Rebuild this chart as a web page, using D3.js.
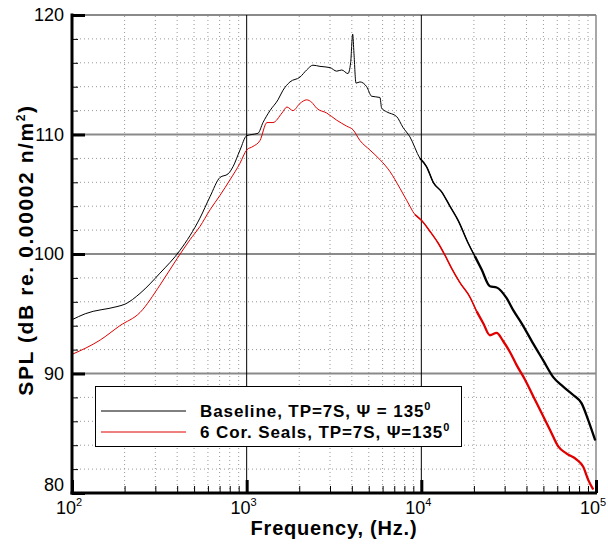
<!DOCTYPE html>
<html><head><meta charset="utf-8">
<script src="https://cdn.jsdelivr.net/npm/d3@7"></script>
<style>body{margin:0;background:#fff}svg{display:block}text{font-family:Arial,"Liberation Sans",sans-serif}</style>
</head><body><div id="chart"></div>
<script>
const baselineFreq = [100,119,181,201,245,319,415,540,617,703,782,835,916,1000,1072,1161,1240,1360,1511,1614,1770,2019,2205,2396,2628,2999,3275,3499,3801,3938,4045,4114,4225,4451,4864,5194,5794,5926,6328,7222,7847,8604,9817,10723,11700,13068,14577,16262,18556,20270,22140,24704,26977,30780,33574,37514,43700,49860,56886,64900,74050,82740,90250,99000];
const baselineSPL = [94.5,95.0,95.6,95.8,96.7,98.4,100.3,103.0,104.8,106.4,106.7,107.3,108.7,109.9,110.0,110.1,111.0,112.0,112.9,113.7,114.4,114.8,115.4,115.8,115.7,115.6,115.3,115.4,115.1,116.0,118.4,116.8,114.3,114.4,114.0,113.2,113.1,112.2,111.9,111.5,110.6,109.8,108.0,107.3,106.0,105.2,104.0,102.8,100.9,99.8,98.7,97.3,97.2,96.3,95.3,94.2,92.5,91.1,89.7,88.9,88.2,87.5,86.1,84.4];
const sealsFreq = [100,145,188,245,319,399,474,540,617,703,802,916,1000,1087,1192,1307,1415,1593,1701,1841,2019,2205,2356,2516,2871,3275,3736,4060,4451,5078,5794,6610,7542,8239,9192,10040,11200,12497,13650,14911,16634,18975,20725,22615,24704,26977,29430,32150,35120,39180,43700,48820,54460,60750,67880,77450,84480,90250,96390];
const sealsSPL = [91.6,92.8,94.0,95.1,97.4,99.6,101.2,102.3,103.7,104.9,106.2,107.6,108.7,109.0,109.5,111.0,111.0,111.8,112.3,112.0,112.6,112.9,112.7,112.2,111.8,111.2,110.7,110.4,109.5,108.7,107.9,106.9,105.5,104.5,103.3,102.8,101.9,100.9,99.9,98.8,97.6,96.4,95.2,94.2,93.2,93.4,92.7,91.8,90.7,89.5,88.1,86.7,85.3,83.9,83.3,82.8,82.2,81.1,80.3];
const yTicks = [80,90,100,110,120];
const xTickExps = [2,3,4,5];
const legendLabels = ["Baseline, TP=7S, \u03A8 = 135", "6 Cor. Seals, TP=7S, \u03A8=135"];

const W = 608, H = 544;
const svg = d3.select("#chart").append("svg").attr("width", W).attr("height", H);
const x = d3.scaleLog().domain([100, 100000]).range([72, 596]);
const y = d3.scaleLinear().domain([80, 120]).range([493, 15]);

// minor grid
const minorX = [];
for (let d = 100; d < 100000; d *= 10) for (let k = 2; k <= 9; k++) minorX.push(d * k);
const minorY = d3.range(82, 120, 2).filter(v => v % 10 !== 0);
const g = svg.append("g");
g.selectAll(".mx").data(minorX).join("line")
  .attr("x1", d => x(d)).attr("x2", d => x(d)).attr("y1", y(80)).attr("y2", y(120))
  .attr("stroke", "#999").attr("stroke-width", 1).attr("stroke-dasharray", "1,3");
g.selectAll(".my").data(minorY).join("line")
  .attr("x1", x(100)).attr("x2", x(100000)).attr("y1", d => y(d)).attr("y2", d => y(d))
  .attr("stroke", "#999").attr("stroke-width", 1).attr("stroke-dasharray", "1,3");
// major grid
g.selectAll(".My").data([90,100,110,120]).join("line")
  .attr("x1", x(100)).attr("x2", x(100000)).attr("y1", d => y(d)).attr("y2", d => y(d))
  .attr("stroke", "#8a8a8a").attr("stroke-width", 2);
g.selectAll(".Mx").data([1000,10000]).join("line")
  .attr("x1", d => x(d)).attr("x2", d => x(d)).attr("y1", y(80)).attr("y2", y(120))
  .attr("stroke", "#000").attr("stroke-width", 1);
g.append("line").attr("x1", x(100000)).attr("x2", x(100000)).attr("y1", y(80)).attr("y2", y(120))
  .attr("stroke", "#8a8a8a").attr("stroke-width", 1.5);

// data lines
const line = d3.line().x(d => x(d[0])).y(d => y(d[1])).curve(d3.curveMonotoneX);
const base = baselineFreq.map((f, i) => [f, baselineSPL[i]]);
const seals = sealsFreq.map((f, i) => [f, sealsSPL[i]]);
function drawSeries(data, color) {
  svg.append("path").datum(data).attr("d", line).attr("fill", "none").attr("stroke", color).attr("stroke-width", 1);
  svg.append("path").datum(data.filter(d => d[0] >= 9000 && d[0] <= 22000)).attr("d", line).attr("fill", "none").attr("stroke", color).attr("stroke-width", 1.5);
  svg.append("path").datum(data.filter(d => d[0] >= 20000)).attr("d", line).attr("fill", "none").attr("stroke", color).attr("stroke-width", 2.3);
}
drawSeries(base, "#000");
drawSeries(seals, "#e00000");

// axes
const ga = svg.append("g").attr("transform", `translate(0,${y(80)})`)
  .call(d3.axisBottom(x).tickValues(minorX).tickSize(-7).tickFormat(""));
ga.select(".domain").remove();
ga.selectAll("line").attr("stroke", "#000").attr("stroke-width", 1);
const xMaj = svg.append("g").attr("transform", `translate(0,${y(80)})`)
  .call(d3.axisBottom(x).tickValues(xTickExps.map(e => Math.pow(10, e))).tickSize(-13).tickFormat(""));
xMaj.select(".domain").remove();
xMaj.selectAll("line").attr("stroke", "#000").attr("stroke-width", 3);
const yAxMinor = svg.append("g").attr("transform", `translate(${x(100)},0)`)
  .call(d3.axisLeft(y).tickValues(minorY).tickSize(-6).tickFormat(""));
yAxMinor.select(".domain").remove();
yAxMinor.selectAll("line").attr("stroke", "#000").attr("stroke-width", 1);
const yAx = svg.append("g").attr("transform", `translate(${x(100)},0)`)
  .call(d3.axisLeft(y).tickValues(yTicks).tickSize(-13).tickFormat(""));
yAx.select(".domain").remove();
yAx.selectAll("line").attr("stroke", "#000").attr("stroke-width", 3);
svg.append("line").attr("x1", x(100)).attr("x2", x(100)).attr("y1", y(120) - 1.5).attr("y2", y(80) + 1.5).attr("stroke", "#000").attr("stroke-width", 3);
svg.append("line").attr("x1", x(100) - 1.5).attr("x2", x(100000) + 1).attr("y1", y(80)).attr("y2", y(80)).attr("stroke", "#000").attr("stroke-width", 3);

// tick labels
svg.selectAll(".yl").data(yTicks).join("text")
  .attr("x", 64).attr("y", d => y(d) + (d === 80 ? -2 : 6)).attr("text-anchor", "end")
  .attr("font-size", 18).text(d => d);
const xl = svg.selectAll(".xl").data(xTickExps).join("text")
  .attr("x", d => x(Math.pow(10, d)) - 3).attr("y", 514).attr("text-anchor", "middle").attr("font-size", 18);
xl.append("tspan").text("10");
xl.append("tspan").attr("dy", -8).attr("font-size", 11).text(d => d);

// titles
svg.append("text").attr("x", 334).attr("y", 535).attr("text-anchor", "middle")
  .attr("font-size", 20).attr("font-weight", "bold").attr("letter-spacing", 0.8).text("Frequency, (Hz.)");
const yt = svg.append("text").attr("transform", "translate(33,250) rotate(-90)").attr("text-anchor", "middle")
  .attr("font-size", 21).attr("font-weight", "bold").attr("letter-spacing", 1.6);
yt.append("tspan").text("SPL (dB re. 0.00002 n/m");
yt.append("tspan").attr("dy", -8).attr("font-size", 12).text("2");
yt.append("tspan").attr("dy", 8).text(")");

// legend
svg.append("rect").attr("x", 95.5).attr("y", 386.5).attr("width", 366).attr("height", 60)
  .attr("fill", "#fff").attr("stroke", "#000").attr("stroke-width", 1);
const colors = ["#000", "#e00000"];
const ly = [411, 432];
legendLabels.forEach((t, i) => {
  svg.append("line").attr("x1", 101).attr("x2", 186).attr("y1", ly[i]).attr("y2", ly[i])
    .attr("stroke", colors[i]).attr("stroke-width", 1);
  const tx = svg.append("text").attr("x", 200).attr("y", ly[i] + 6).attr("font-size", 17)
    .attr("font-weight", "bold").attr("letter-spacing", 0.9);
  tx.append("tspan").text(t);
  tx.append("tspan").attr("dy", -7).attr("font-size", 11).text("0");
});
</script></body></html>
